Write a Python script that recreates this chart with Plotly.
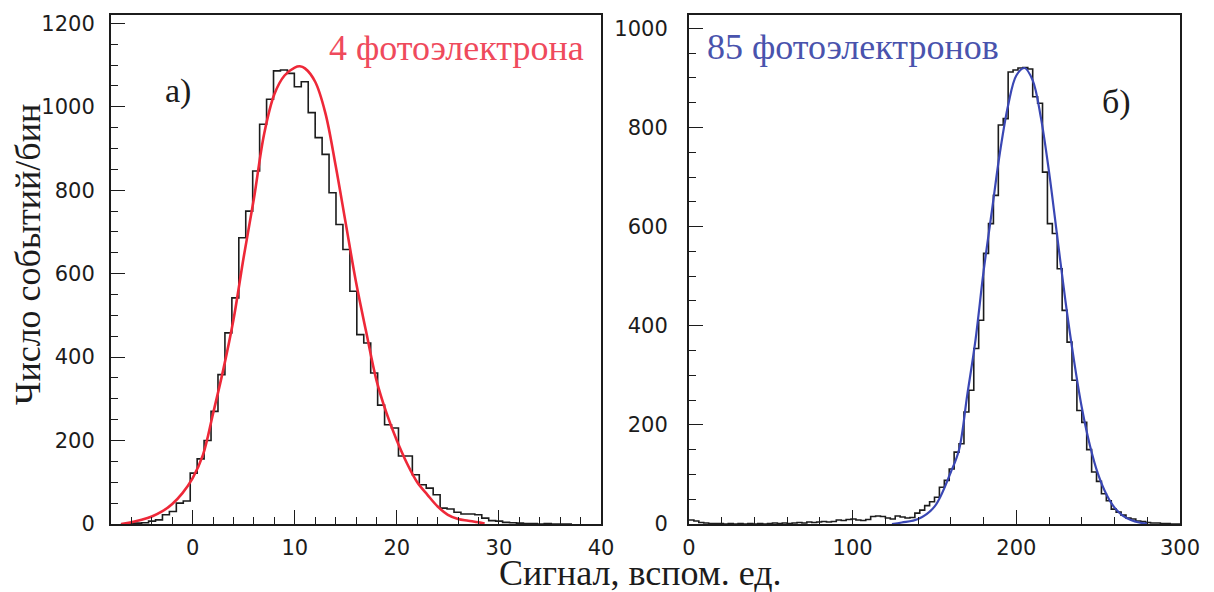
import numpy as np
import plotly.graph_objects as go

W, H = 1214, 592

# ---------------- Panel a): 4 photoelectrons ----------------
left_bin_start = -7.04
left_bin_width = 0.68
left_counts = [0, 1, 2, 3, 7, 10, 22, 30, 50, 55,
               122, 156, 200, 270, 358, 458, 542, 686, 750, 846,
               958, 1018, 1086, 1088, 1080, 1048, 1060, 986, 926, 886,
               794, 718, 658, 558, 454, 434, 362, 285, 238, 230,
               163, 163, 118, 94, 86, 70, 38, 36, 28, 24,
               24, 22, 14, 8, 7, 4, 3, 2, 1, 1,
               0, 1, 0, 0, 0]
left_fit_x = [-7.0, -6.0, -5.0, -4.0, -3.0, -2.0, -1.0, 0.0, 1.0, 2.0, 3.0, 4.0,
              5.0, 6.0, 7.0, 8.0, 9.0, 10.0, 10.5, 11.0, 12.0, 13.0, 14.0, 15.0,
              16.0, 17.0, 18.0, 19.0, 20.0, 21.0, 22.0, 23.0, 24.0, 25.0, 26.0,
              27.0, 28.0, 28.6]
left_fit_y = [0, 4, 10, 18, 30, 48, 74, 110, 165, 265, 370, 490,
              640, 780, 935, 1030, 1075, 1094, 1097, 1092, 1060, 985, 860, 720,
              580, 460, 345, 265, 200, 145, 100, 70, 42, 22, 12,
              8, 4, 1]

# ---------------- Panel б): 85 photoelectrons ----------------
right_bin_start = 0
right_bin_width = 3
right_counts = [8, 6, 3, 2, 1, 1, 1, 0, 1, 0,
                1, 0, 1, 0, 1, 0, 1, 2, 1, 2,
                1, 2, 3, 2, 4, 3, 4, 5, 4, 5,
                8, 7, 9, 10, 8, 7, 9, 15, 16, 15,
                12, 10, 16, 14, 12, 13, 22, 28, 37, 45,
                54, 74, 88, 111, 145, 162, 226, 270, 354, 411,
                546, 606, 663, 805, 818, 912, 916, 920, 921, 918,
                862, 849, 710, 606, 586, 515, 431, 367, 290, 229,
                205, 150, 105, 86, 61, 47, 30, 24, 18, 12,
                10, 6, 5, 3, 2, 2, 1, 1, 0, 0]
right_fit_x = [124, 130, 140, 150, 160, 165, 170, 175, 180, 185, 190, 195, 200,
               205, 210, 215, 220, 225, 230, 235, 240, 245, 250, 255, 260, 265,
               270, 275, 280]
right_fit_y = [0, 3, 10, 35, 105, 150, 260, 370, 510, 630, 750, 845, 905,
               920, 895, 820, 710, 580, 450, 335, 235, 158, 100, 60, 33, 17,
               8, 3, 1]

left_label = "4 фотоэлектрона"
right_label = "85 фотоэлектронов"
panel_a = "а)"
panel_b = "б)"
y_title = "Число событий/бин"
x_title = "Сигнал, вспом. ед."


def steps(start, width, counts):
    edges = start + width * np.arange(len(counts) + 1)
    ys = list(counts) + [counts[-1]]
    return edges, ys


def px_x(p):
    return p / W


def px_y(p):
    return (H - p) / H


INK = "#1c1c1c"
RED_LINE = "#ee2838"
RED_TEXT = "#ef4a5c"
BLUE_LINE = "#3a47b4"
BLUE_TEXT = "#4953ad"

fig = go.Figure()

lx, ly = steps(left_bin_start, left_bin_width, left_counts)
fig.add_trace(go.Scatter(x=lx, y=ly, mode="lines", line=dict(color=INK, width=1.6, shape="hv"),
                         xaxis="x", yaxis="y", showlegend=False, hoverinfo="skip"))
fig.add_trace(go.Scatter(x=left_fit_x, y=left_fit_y, mode="lines",
                         line=dict(color=RED_LINE, width=2.6, shape="spline", smoothing=1.0),
                         xaxis="x", yaxis="y", showlegend=False, hoverinfo="skip"))

rx, ry = steps(right_bin_start, right_bin_width, right_counts)
fig.add_trace(go.Scatter(x=rx, y=ry, mode="lines", line=dict(color=INK, width=1.6, shape="hv"),
                         xaxis="x2", yaxis="y2", showlegend=False, hoverinfo="skip"))
fig.add_trace(go.Scatter(x=right_fit_x, y=right_fit_y, mode="lines",
                         line=dict(color=BLUE_LINE, width=2.2, shape="spline", smoothing=1.0),
                         xaxis="x2", yaxis="y2", showlegend=False, hoverinfo="skip"))

tickfont = dict(family="DejaVu Sans", size=21, color=INK)


def axis(domain, rng, dtick, minor_dtick, anchor, standoff):
    return dict(
        domain=domain, range=rng, dtick=dtick, tick0=0, anchor=anchor,
        automargin=False,
        showgrid=False, zeroline=False, showline=True, linecolor=INK, linewidth=2,
        mirror=True, ticks="inside", ticklen=14, tickwidth=1.4, tickcolor=INK,
        tickfont=tickfont, ticklabelstandoff=standoff,
        minor=dict(dtick=minor_dtick, tick0=0, ticks="inside", ticklen=7,
                   tickwidth=1.2, tickcolor=INK, showgrid=False),
    )


ydom = [px_y(524), px_y(15)]
fig.update_layout(
    width=W, height=H,
    margin=dict(l=0, r=0, t=0, b=0, autoexpand=False),
    paper_bgcolor="white", plot_bgcolor="white",
    xaxis=axis([px_x(111), px_x(601)], [-8, 40], 10, 2, "y", 4),
    yaxis=axis(ydom, [0, 1220], 200, 50, "x", 10),
    xaxis2=axis([px_x(689), px_x(1180)], [0, 300], 100, 20, "y2", 4),
    yaxis2=axis(ydom, [0, 1027], 200, 50, "x2", 15),
)

serif = "Liberation Serif"
ann = [
    dict(text=left_label, x=px_x(456), y=px_y(48), font=dict(family=serif, size=36, color=RED_TEXT)),
    dict(text=right_label, x=px_x(853), y=px_y(47), font=dict(family=serif, size=36, color=BLUE_TEXT)),
    dict(text=panel_a, x=px_x(178), y=px_y(91), font=dict(family=serif, size=34, color=INK)),
    dict(text=panel_b, x=px_x(1116), y=px_y(102), font=dict(family=serif, size=34, color=INK)),
    dict(text=x_title, x=px_x(640), y=px_y(592), yanchor="bottom", yshift=-3,
         font=dict(family=serif, size=36, color=INK)),
    dict(text=y_title, x=px_x(28), y=px_y(255), textangle=-90, font=dict(family=serif, size=36, color=INK)),
]
for a in ann:
    a.setdefault("yanchor", "middle")
    a.update(xref="paper", yref="paper", xanchor="center", showarrow=False)
fig.update_layout(annotations=ann)

fig.write_html(
    "out.html",
    config={"displayModeBar": False},
    post_script="document.body.style.margin='0';document.body.style.overflow='hidden';",
)
